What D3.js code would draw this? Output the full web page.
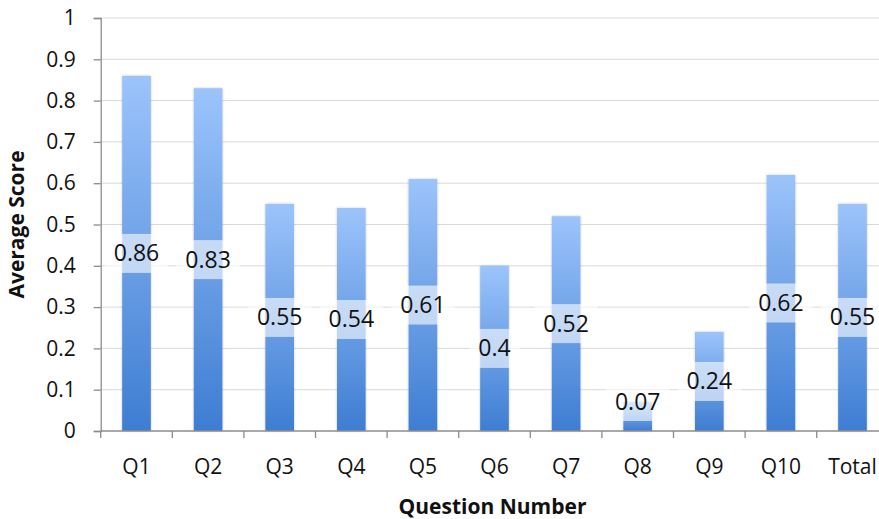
<!DOCTYPE html>
<html>
<head>
<meta charset="utf-8">
<script src="https://cdn.jsdelivr.net/npm/d3@7"></script>
<style>
  html, body { margin: 0; padding: 0; background: #fff; }
  svg { display: block; }
  text { font-family: "Open Sans", "DejaVu Sans", sans-serif; fill: #111; }
</style>
</head>
<body>
<svg id="chart" width="879" height="519"></svg>
<script>
// Average score per question
const categories = ["Q1", "Q2", "Q3", "Q4", "Q5", "Q6", "Q7", "Q8", "Q9", "Q10", "Total"];
const scores = [0.86, 0.83, 0.55, 0.54, 0.61, 0.4, 0.52, 0.07, 0.24, 0.62, 0.55];
const yTicks = [0, 0.1, 0.2, 0.3, 0.4, 0.5, 0.6, 0.7, 0.8, 0.9, 1];
const yTickLabels = ["0", "0.1", "0.2", "0.3", "0.4", "0.5", "0.6", "0.7", "0.8", "0.9", "1"];
const xTitle = "Question Number";
const yTitle = "Average Score";

const data = categories.map((c, i) => ({ cat: c, value: scores[i] }));

const svg = d3.select("#chart");
const W = 879, H = 519;
const plot = { left: 100.7, right: 888.3, top: 18, bottom: 431 };

const x = d3.scaleBand()
  .domain(categories)
  .range([plot.left, plot.right])
  .paddingInner(0.6)
  .paddingOuter(0.3);

const y = d3.scaleLinear().domain([0, 1]).range([plot.bottom, plot.top]);

const defs = svg.append("defs");
const grad = defs.append("linearGradient")
  .attr("id", "barGrad")
  .attr("x1", 0).attr("y1", 0).attr("x2", 0).attr("y2", 1);
grad.append("stop").attr("offset", "0%").attr("stop-color", "#9cc4fb");
grad.append("stop").attr("offset", "100%").attr("stop-color", "#3e7dd2");

const shadow = defs.append("filter").attr("id", "barShadow")
  .attr("x", "-20%").attr("y", "-5%").attr("width", "140%").attr("height", "110%");
shadow.append("feDropShadow")
  .attr("dx", 0).attr("dy", 0).attr("stdDeviation", 1)
  .attr("flood-color", "#000").attr("flood-opacity", 0.25);

defs.append("clipPath").attr("id", "frame")
  .append("rect").attr("x", 0).attr("y", 0).attr("width", W).attr("height", H);

const root = svg.append("g").attr("clip-path", "url(#frame)");

// horizontal gridlines
root.append("g")
  .selectAll("line")
  .data(yTicks.filter(t => t > 0))
  .join("line")
  .attr("x1", plot.left).attr("x2", plot.right)
  .attr("y1", d => y(d)).attr("y2", d => y(d))
  .attr("stroke", "#d9d9d9").attr("stroke-width", 1);

// bars
root.append("g")
  .selectAll("rect")
  .data(data)
  .join("rect")
  .attr("x", d => x(d.cat))
  .attr("width", x.bandwidth())
  .attr("y", d => y(d.value))
  .attr("height", d => y(0) - y(d.value))
  .attr("fill", "url(#barGrad)")
  .attr("filter", "url(#barShadow)");

// y axis
const yAxis = root.append("g")
  .attr("transform", `translate(${plot.left},0)`)
  .call(d3.axisLeft(y)
    .tickValues(yTicks)
    .tickFormat((d, i) => yTickLabels[i])
    .tickSize(7)
    .tickPadding(18));
yAxis.select(".domain").attr("stroke", "#8c8c8c").attr("stroke-width", 1.3);
yAxis.selectAll(".tick line").attr("stroke", "#8c8c8c").attr("stroke-width", 1.3);
yAxis.selectAll(".tick text")
  .attr("font-size", 21)
  .style("font-family", "'Open Sans', sans-serif")
  .attr("fill", "#111");

// x axis with ticks at the category boundaries
const step = x.step();
const boundaries = d3.range(categories.length + 1).map(i => plot.left + i * step);
const xAxisG = root.append("g");
xAxisG.append("line")
  .attr("x1", plot.left).attr("x2", plot.right)
  .attr("y1", y(0)).attr("y2", y(0))
  .attr("stroke", "#8c8c8c").attr("stroke-width", 1.3);
xAxisG.selectAll("line.tk")
  .data(boundaries)
  .join("line")
  .attr("class", "tk")
  .attr("x1", d => d).attr("x2", d => d)
  .attr("y1", y(0)).attr("y2", y(0) + 7)
  .attr("stroke", "#8c8c8c").attr("stroke-width", 1.3);
xAxisG.selectAll("text")
  .data(categories)
  .join("text")
  .attr("x", d => x(d) + x.bandwidth() / 2)
  .attr("y", 474)
  .attr("text-anchor", "middle")
  .attr("font-size", 21)
  .text(d => d);

// value labels on translucent boxes centred in each bar,
// kept clear of the axis for very short bars
const boxH = 39;
const labels = root.append("g");
data.forEach(d => {
  const cx = x(d.cat) + x.bandwidth() / 2;
  const cy = Math.min(y(d.value / 2), y(0) - 10 - boxH / 2);
  const g = labels.append("g");
  const box = g.append("rect");
  const t = g.append("text")
    .attr("x", cx)
    .attr("y", cy + 8)
    .attr("text-anchor", "middle")
    .attr("font-size", 23)
    .text(String(d.value));
  const bb = t.node().getBBox();
  box.attr("x", cx - bb.width / 2 - 9)
    .attr("width", bb.width + 18)
    .attr("y", cy - boxH / 2)
    .attr("height", boxH)
    .attr("fill", "#fff")
    .attr("fill-opacity", 0.6);
});

// axis titles
svg.append("text")
  .attr("x", (plot.left + plot.right) / 2 - 2)
  .attr("y", 514)
  .attr("text-anchor", "middle")
  .attr("font-size", 21)
  .attr("font-weight", "bold")
  .text(xTitle);

svg.append("text")
  .attr("transform", `translate(24,${(plot.top + plot.bottom) / 2}) rotate(-90)`)
  .attr("text-anchor", "middle")
  .attr("font-size", 21)
  .attr("font-weight", "bold")
  .text(yTitle);
</script>
</body>
</html>
